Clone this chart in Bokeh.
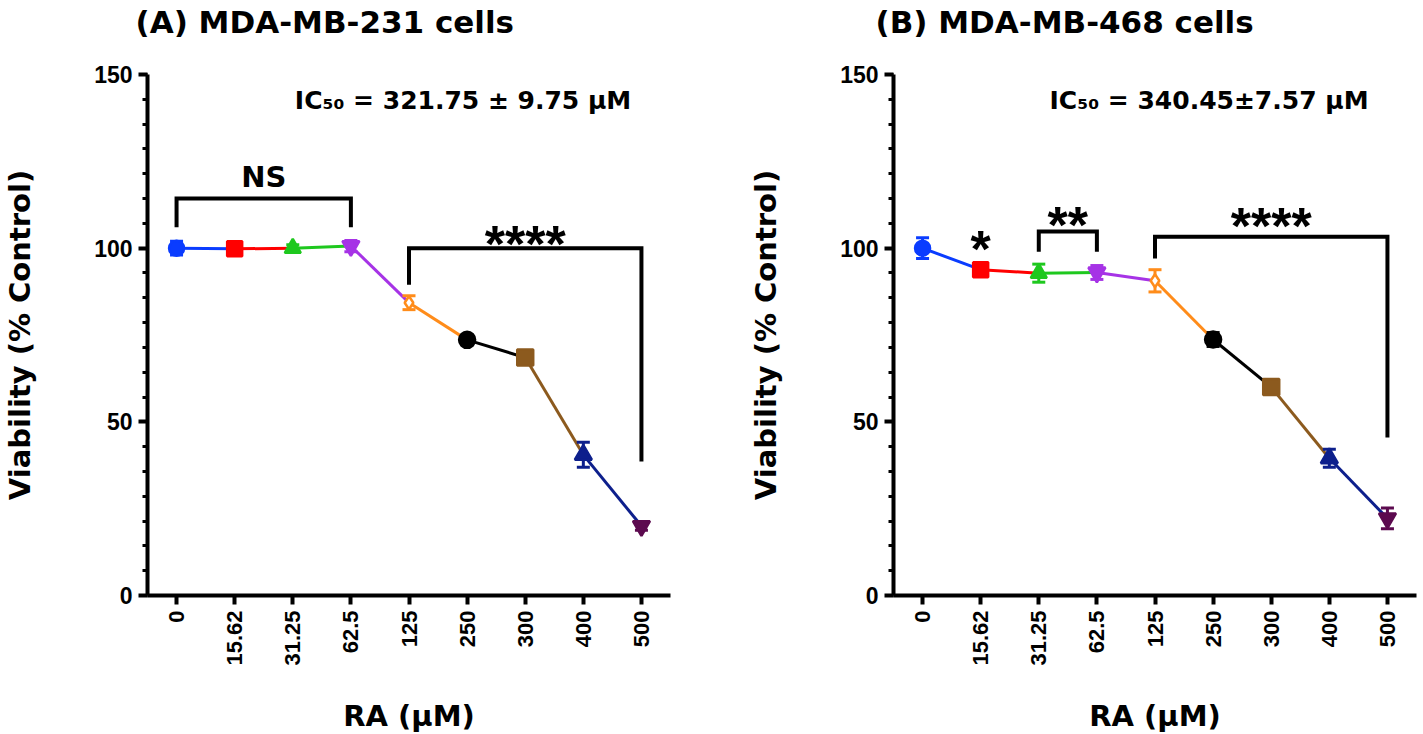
import math
from bokeh.plotting import figure
from bokeh.models import FactorRange, Range1d, FixedTicker, ColumnDataSource, Title
from bokeh.layouts import row
from bokeh.embed import file_html
from bokeh.resources import INLINE
from bokeh.core.properties import value

# ---------------- data ----------------
doses = ["0", "15.62", "31.25", "62.5", "125", "250", "300", "400", "500"]

a_mean = [100.0, 99.8, 100.0, 100.6, 84.3, 73.6, 68.5, 40.5, 20.0]
a_err = [2.0, 1.6, 1.0, 1.6, 2.0, 0.8, 0.8, 3.6, 1.2]

b_mean = [100.0, 93.8, 92.8, 93.0, 90.6, 73.7, 60.0, 39.5, 22.2]
b_err = [3.0, 1.6, 2.6, 2.0, 3.2, 2.0, 1.2, 2.6, 3.0]

y_ticks = [0, 50, 100, 150]

a_title = "(A) MDA-MB-231 cells"
b_title = "(B) MDA-MB-468 cells"
a_ic50 = "IC\u2085\u2080 = 321.75 \u00b1 9.75 \u03bcM"
b_ic50 = "IC\u2085\u2080 = 340.45\u00b17.57 \u03bcM"

# significance brackets: (first dose idx, last dose idx, top y, left foot y, right foot y, label, label y)
a_brackets = [(0, 3, 114.3, 106.0, 106.0, "NS", 120.5),
              (4, 8, 100.0, 89.5, 38.6, "****", 103.5)]
b_brackets = [(2, 3, 104.8, 99.0, 99.0, "**", 109.2),
              (4, 8, 103.3, 97.0, 45.5, "****", 108.8)]
b_single = [(1, "*", 102.2)]

# ---------------- styles ----------------
colors = ["#0a3cff", "#ff0000", "#1ec81e", "#a633e6", "#ff8c1a",
          "#000000", "#8c5a1e", "#0d1f8c", "#5c0a4f"]
markers = ["circle", "square", "triangle", "inverted_triangle", "diamond",
           "circle", "square", "triangle", "inverted_triangle"]
fills = ["#0a3cff", "#ff0000", "#1ec81e", "#a633e6", "#ffffff",
         "#000000", "#8c5a1e", "#0d1f8c", "#5c0a4f"]
msizes = [15, 15, 16, 17, 13, 16, 16, 17, 17]

FONT = "Liberation Sans"
WIDE = "DejaVu Sans"


def make_panel(title, title_offset, means, errs, brackets, singles, ic50,
               left_border, right_border):
    p = figure(x_range=FactorRange(*doses), y_range=Range1d(0, 150),
               frame_width=523, frame_height=521,
               min_border_left=left_border, min_border_right=right_border,
               min_border_top=74, min_border_bottom=123,
               output_backend="svg", toolbar_location=None,
               background_fill_color="white", border_fill_color="white")
    p.outline_line_color = None
    p.xgrid.grid_line_color = None
    p.ygrid.grid_line_color = None

    p.title = Title(text=title, align="left", offset=title_offset,
                    vertical_align="bottom", standoff=0,
                    text_font=WIDE, text_font_size="31px",
                    text_font_style="bold", text_color="black")
    # blank spacer between the title and the frame
    p.add_layout(Title(text=" ", standoff=0, text_font=WIDE,
                       text_font_size="28px"), "above")

    # axes
    p.yaxis.ticker = FixedTicker(ticks=y_ticks,
                                 minor_ticks=[i * 50.0 / 7 for i in range(22)])
    for ax in (p.xaxis, p.yaxis):
        ax.axis_line_width = 4
        ax.axis_line_color = "black"
        ax.major_tick_line_width = 4
        ax.major_tick_line_color = "black"
        ax.major_tick_in = 0
        ax.major_tick_out = 9
        ax.major_label_text_font = FONT
        ax.major_label_text_font_style = "bold"
        ax.major_label_text_color = "black"
        ax.axis_label_text_font = WIDE
        ax.axis_label_text_font_style = "bold"
        ax.axis_label_text_color = "black"
        ax.axis_label_text_font_size = "29px"
    p.yaxis.minor_tick_line_width = 3
    p.yaxis.minor_tick_line_color = "black"
    p.yaxis.minor_tick_in = 0
    p.yaxis.minor_tick_out = 5
    p.yaxis.major_label_text_font_size = "23px"
    p.yaxis.major_label_standoff = 6
    p.yaxis.axis_label = "Viability (% Control)"
    p.yaxis.axis_label_standoff = 54
    p.xaxis.major_label_text_font_size = "22px"
    p.xaxis.major_label_orientation = math.pi / 2
    p.xaxis.major_label_standoff = 6
    p.xaxis.axis_label = "RA (\u03bcM)"
    p.xaxis.axis_label_standoff = 30

    # connecting line segments, coloured like the left point
    seg = ColumnDataSource(dict(x0=doses[:-1], x1=doses[1:], y0=means[:-1],
                                y1=means[1:], c=colors[:-1]))
    p.segment(x0="x0", y0="y0", x1="x1", y1="y1", line_color="c",
              line_width=3, source=seg)

    # error bars
    lo = [m - e for m, e in zip(means, errs)]
    hi = [m + e for m, e in zip(means, errs)]
    eb = ColumnDataSource(dict(x=doses, lo=lo, hi=hi, c=colors))
    p.segment(x0="x", y0="lo", x1="x", y1="hi", line_color="c",
              line_width=3, source=eb)
    p.scatter(x="x", y="lo", marker="dash", size=13, line_color="c",
              line_width=3, source=eb)
    p.scatter(x="x", y="hi", marker="dash", size=13, line_color="c",
              line_width=3, source=eb)

    # markers
    pts = ColumnDataSource(dict(x=doses, y=means, m=markers, c=colors,
                                f=fills, s=msizes))
    p.scatter(x="x", y="y", marker="m", size="s", fill_color="f",
              line_color="c", line_width=2.5, source=pts)

    # brackets and significance marks
    def mark(xc, yc, lab):
        star = "*" in lab
        fs = 52 if star else 29
        p.text(x=[xc], y=[yc], text=[lab], text_align="center",
               text_baseline="alphabetic" if star else "middle",
               y_offset=0.16 * fs if star else 0,
               text_font=value(FONT if star else WIDE), text_font_style="bold",
               text_font_size=value(f"{fs}px"), text_color="black")

    for i0, i1, ytop, yl, yr, lab, ly in brackets:
        x0 = i0 + 0.5
        x1 = i1 + 0.5
        p.line(x=[x0, x0, x1, x1], y=[yl, ytop, ytop, yr], line_color="black",
               line_width=4, line_join="miter")
        mark((x0 + x1) / 2, ly, lab)
    for i, lab, ly in singles:
        mark(i + 0.5, ly, lab)

    # IC50
    p.text(x=[5.43], y=[142.6], text=[ic50], text_align="center",
           text_baseline="middle", text_font=value(WIDE),
           text_font_style="bold", text_font_size=value("25px"),
           text_color="black")
    return p


pa = make_panel(a_title, -12, a_mean, a_err, a_brackets, [], a_ic50, 139, 50)
pb = make_panel(b_title, -18, b_mean, b_err, b_brackets, b_single, b_ic50, 173, 2)

layout = row(pa, pb)
open("out.html", "w").write(file_html(layout, INLINE))
